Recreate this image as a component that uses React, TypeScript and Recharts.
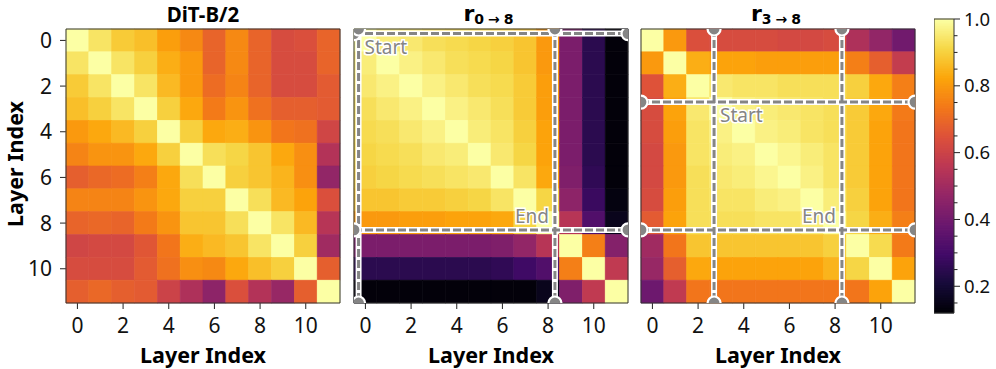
import React from 'react';
import { ScatterChart, Scatter, XAxis, YAxis, ReferenceDot } from 'recharts';

const layers = [0, 1, 2, 3, 4, 5, 6, 7, 8, 9, 10, 11];
const layerTicks = [0, 2, 4, 6, 8, 10];

// layer-to-layer similarity
const ditB2 = [
  [1.0, 0.94, 0.89, 0.87, 0.81, 0.77, 0.69, 0.77, 0.69, 0.63, 0.64, 0.69],
  [0.94, 1.0, 0.94, 0.9, 0.84, 0.8, 0.69, 0.77, 0.69, 0.63, 0.63, 0.69],
  [0.89, 0.94, 1.0, 0.94, 0.86, 0.8, 0.71, 0.76, 0.69, 0.63, 0.63, 0.67],
  [0.87, 0.9, 0.94, 1.0, 0.9, 0.83, 0.74, 0.79, 0.72, 0.68, 0.68, 0.67],
  [0.8, 0.83, 0.86, 0.9, 1.0, 0.9, 0.83, 0.84, 0.79, 0.73, 0.72, 0.61],
  [0.76, 0.79, 0.79, 0.83, 0.9, 1.0, 0.93, 0.91, 0.88, 0.83, 0.78, 0.54],
  [0.68, 0.7, 0.71, 0.75, 0.83, 0.93, 1.0, 0.9, 0.88, 0.85, 0.78, 0.47],
  [0.76, 0.76, 0.76, 0.79, 0.83, 0.9, 0.9, 1.0, 0.93, 0.86, 0.82, 0.64],
  [0.69, 0.7, 0.69, 0.74, 0.79, 0.88, 0.88, 0.93, 1.0, 0.94, 0.86, 0.55],
  [0.61, 0.62, 0.62, 0.66, 0.73, 0.84, 0.86, 0.88, 0.94, 1.0, 0.9, 0.5],
  [0.63, 0.63, 0.63, 0.67, 0.72, 0.78, 0.77, 0.83, 0.87, 0.9, 1.0, 0.68],
  [0.68, 0.7, 0.68, 0.67, 0.6, 0.53, 0.46, 0.64, 0.54, 0.48, 0.68, 1.0],
];

const r0to8 = [
  [1.0, 0.96, 0.95, 0.93, 0.92, 0.91, 0.9, 0.88, 0.8, 0.42, 0.25, 0.13],
  [0.96, 1.0, 0.97, 0.95, 0.93, 0.92, 0.91, 0.88, 0.8, 0.42, 0.25, 0.13],
  [0.95, 0.97, 1.0, 0.97, 0.95, 0.93, 0.92, 0.89, 0.81, 0.42, 0.25, 0.13],
  [0.93, 0.95, 0.97, 1.0, 0.97, 0.95, 0.93, 0.89, 0.81, 0.42, 0.25, 0.13],
  [0.92, 0.93, 0.95, 0.97, 1.0, 0.96, 0.94, 0.9, 0.82, 0.42, 0.25, 0.13],
  [0.91, 0.92, 0.93, 0.95, 0.96, 1.0, 0.95, 0.91, 0.82, 0.42, 0.25, 0.13],
  [0.9, 0.91, 0.92, 0.93, 0.94, 0.95, 1.0, 0.94, 0.83, 0.43, 0.26, 0.13],
  [0.88, 0.88, 0.89, 0.89, 0.9, 0.91, 0.94, 1.0, 0.91, 0.46, 0.28, 0.14],
  [0.8, 0.8, 0.81, 0.81, 0.82, 0.82, 0.83, 0.91, 1.0, 0.55, 0.33, 0.16],
  [0.42, 0.42, 0.42, 0.42, 0.42, 0.42, 0.43, 0.47, 0.55, 1.0, 0.75, 0.44],
  [0.25, 0.25, 0.25, 0.25, 0.25, 0.25, 0.26, 0.29, 0.33, 0.75, 1.0, 0.57],
  [0.13, 0.13, 0.13, 0.13, 0.13, 0.13, 0.13, 0.13, 0.16, 0.43, 0.57, 1.0],
];

const r3to8 = [
  [1.0, 0.8, 0.64, 0.63, 0.63, 0.63, 0.62, 0.62, 0.63, 0.53, 0.47, 0.4],
  [0.8, 1.0, 0.84, 0.82, 0.82, 0.81, 0.81, 0.81, 0.81, 0.75, 0.68, 0.58],
  [0.65, 0.84, 1.0, 0.95, 0.94, 0.94, 0.93, 0.93, 0.93, 0.9, 0.83, 0.75],
  [0.63, 0.82, 0.95, 1.0, 0.97, 0.96, 0.95, 0.94, 0.93, 0.89, 0.83, 0.74],
  [0.63, 0.81, 0.94, 0.97, 1.0, 0.97, 0.96, 0.94, 0.93, 0.89, 0.82, 0.73],
  [0.62, 0.8, 0.94, 0.96, 0.97, 1.0, 0.98, 0.96, 0.94, 0.89, 0.82, 0.73],
  [0.62, 0.8, 0.93, 0.95, 0.96, 0.98, 1.0, 0.97, 0.94, 0.89, 0.82, 0.73],
  [0.63, 0.81, 0.93, 0.94, 0.94, 0.96, 0.97, 1.0, 0.96, 0.9, 0.82, 0.73],
  [0.67, 0.82, 0.93, 0.93, 0.93, 0.94, 0.94, 0.96, 1.0, 0.91, 0.84, 0.75],
  [0.5, 0.73, 0.88, 0.88, 0.88, 0.88, 0.88, 0.88, 0.9, 1.0, 0.92, 0.74],
  [0.48, 0.68, 0.83, 0.82, 0.82, 0.82, 0.82, 0.82, 0.85, 0.91, 1.0, 0.82],
  [0.39, 0.57, 0.73, 0.73, 0.73, 0.73, 0.73, 0.73, 0.73, 0.73, 0.82, 1.0],
];

// [start, end] of the dashed guide box
const r0to8Guides = [-0.3, 8.3];
const r3to8Guides = [2.7, 8.3];

const cbarMin = 0.12;
const cbarMax = 1.0;
const cbarTicks = [0.15, 0.2, 0.25, 0.3, 0.35, 0.4, 0.45, 0.5, 0.55, 0.6, 0.65, 0.7, 0.75, 0.8, 0.85, 0.9, 0.95, 1.0];
const cbarMajor = [0.2, 0.4, 0.6, 0.8, 1.0];

// inferno colormap stops
const INFERNO = ['#000004', '#160b39', '#420a68', '#6a176e', '#932667', '#bc3754', '#dd513a', '#f37819', '#fca50a', '#f6d746', '#fcffa4'];

function hexRgb(h: string) {
  return [1, 3, 5].map((i) => parseInt(h.slice(i, i + 2), 16));
}

function inferno(v: number) {
  const t = Math.min(1, Math.max(0, (v - cbarMin) / (cbarMax - cbarMin))) * 10;
  const i = Math.min(9, Math.floor(t));
  const f = t - i;
  const a = hexRgb(INFERNO[i]);
  const b = hexRgb(INFERNO[i + 1]);
  const c = a.map((x, k) => Math.round(x + (b[k] - x) * f));
  return `rgb(${c[0]},${c[1]},${c[2]})`;
}

const PLOT = 274;
const CELL = PLOT / layers.length;
const TOP = 29;
const H = 369;
const LO = -0.5;
const HI = 11.5;
const GUIDE = '#858585';

const guideText = {
  fill: GUIDE,
  stroke: '#fff',
  strokeWidth: 3,
  paintOrder: 'stroke' as const,
  fontSize: 19,
};

const toCells = (m: number[][]) => m.flatMap((row, i) => row.map((v, j) => ({ x: layers[j], y: layers[i], v })));

const CellShape = (p: any) => {
  const c = inferno(p.payload.v);
  return <rect x={p.cx - CELL / 2} y={p.cy - CELL / 2} width={CELL} height={CELL} fill={c} stroke={c} strokeWidth={0.6} />;
};

const NoShape = () => <g />;

const frame = [
  { x: LO, y: LO },
  { x: HI, y: LO },
  { x: HI, y: HI },
  { x: LO, y: HI },
  { x: LO, y: LO },
];

const guideSegments = (g: number) => [
  [
    { x: LO, y: g },
    { x: HI, y: g },
  ],
  [
    { x: g, y: LO },
    { x: g, y: HI },
  ],
];

type HeatmapProps = { matrix: number[][]; plotLeft: number; showYLabels?: boolean; guides?: number[] };

function Heatmap({ matrix, plotLeft, showYLabels, guides }: HeatmapProps) {
  const yW = showYLabels ? 66 : 12;
  const segs = guides ? guides.flatMap(guideSegments) : [];
  return (
    <div style={{ position: 'absolute', left: plotLeft - yW, top: 0 }}>
      <ScatterChart width={yW + PLOT + 6} height={H} margin={{ top: TOP, right: 6, bottom: 0, left: 0 }}>
        <XAxis
          type="number"
          dataKey="x"
          domain={[LO, HI]}
          ticks={layerTicks}
          interval={0}
          height={66}
          axisLine={false}
          tickSize={6}
          tickMargin={9}
          tickLine={{ stroke: '#222' }}
          tick={{ fill: '#111', fontSize: 21 }}
          label={{ value: 'Layer Index', position: 'insideBottom', offset: 6, fill: '#000', fontSize: 21.5, fontWeight: 700 }}
        />
        <YAxis
          type="number"
          dataKey="y"
          domain={[LO, HI]}
          reversed
          ticks={layerTicks}
          interval={0}
          width={yW}
          axisLine={false}
          tickSize={6}
          tickMargin={8}
          tickLine={{ stroke: '#222' }}
          tick={showYLabels ? { fill: '#111', fontSize: 21 } : false}
        />
        <Scatter data={toCells(matrix)} shape={CellShape} isAnimationActive={false} />
        {segs.map((s, k) => (
          <Scatter key={`w${k}`} data={s} line={{ stroke: '#fff', strokeWidth: 6 }} shape={NoShape} isAnimationActive={false} />
        ))}
        {segs.map((s, k) => (
          <Scatter
            key={`d${k}`}
            data={s}
            line={{ stroke: GUIDE, strokeWidth: 3, strokeDasharray: '8 3' }}
            shape={NoShape}
            isAnimationActive={false}
          />
        ))}
        <Scatter data={frame} line={{ stroke: '#333', strokeWidth: 1 }} shape={NoShape} isAnimationActive={false} />
        {segs.map((s, k) =>
          s.map((pt, n) => (
            <ReferenceDot
              key={`m${k}-${n}`}
              x={pt.x}
              y={pt.y}
              r={6.5}
              fill={GUIDE}
              stroke="#fff"
              strokeWidth={2.2}
              ifOverflow="hidden"
            />
          ))
        )}
        {guides && (
          <ReferenceDot
            x={guides[0]}
            y={guides[0]}
            r={1}
            shape={(p: any) => (
              <text x={p.cx + 6} y={p.cy + 20} {...guideText}>
                Start
              </text>
            )}
          />
        )}
        {guides && (
          <ReferenceDot
            x={guides[1]}
            y={guides[1]}
            r={1}
            shape={(p: any) => (
              <text x={p.cx - 6} y={p.cy - 7} textAnchor="end" {...guideText}>
                End
              </text>
            )}
          />
        )}
      </ScatterChart>
    </div>
  );
}

const CBAR_W = 20;
const CBAR_TOP = 19;
const CBAR_BOTTOM = 313;
const N_BANDS = 176;
const bandStep = (cbarMax - cbarMin) / N_BANDS;
const cbarBands = Array.from({ length: N_BANDS }, (_, i) => ({ x: 0.5, y: cbarMin + bandStep * (i + 0.5) }));
const bandPx = (CBAR_BOTTOM - CBAR_TOP) / N_BANDS;
const cbarFrame = [
  { x: 0, y: cbarMin },
  { x: 1, y: cbarMin },
  { x: 1, y: cbarMax },
  { x: 0, y: cbarMax },
  { x: 0, y: cbarMin },
];

const BandShape = (p: any) => {
  const c = inferno(p.payload.y);
  return <rect x={p.cx - CBAR_W / 2} y={p.cy - bandPx / 2 - 0.4} width={CBAR_W} height={bandPx + 0.8} fill={c} />;
};

function CbarTick(props: any) {
  const { x, y, payload } = props;
  const v = payload.value;
  const major = cbarMajor.some((m) => Math.abs(m - v) < 1e-6);
  const ax = x - 7;
  return (
    <g>
      <line x1={ax} x2={ax + (major ? 6 : 3.5)} y1={y} y2={y} stroke="#222" />
      {major && (
        <text x={ax + 10} y={y} dy="0.36em" fontSize={18.5} fill="#111">
          {v.toFixed(1)}
        </text>
      )}
    </g>
  );
}

function Colorbar() {
  return (
    <div style={{ position: 'absolute', left: 934, top: 0 }}>
      <ScatterChart width={CBAR_W + 50} height={H} margin={{ top: CBAR_TOP, right: 0, bottom: H - CBAR_BOTTOM, left: 0 }}>
        <XAxis type="number" dataKey="x" domain={[0, 1]} hide />
        <YAxis
          type="number"
          dataKey="y"
          domain={[cbarMin, cbarMax]}
          orientation="right"
          width={50}
          ticks={cbarTicks}
          interval={0}
          axisLine={false}
          tickLine={false}
          tickSize={4}
          tickMargin={3}
          tick={(p: any) => <CbarTick {...p} />}
        />
        <Scatter data={cbarBands} shape={BandShape} isAnimationActive={false} />
        <Scatter data={cbarFrame} line={{ stroke: '#333', strokeWidth: 1 }} shape={NoShape} isAnimationActive={false} />
      </ScatterChart>
    </div>
  );
}

const mathFont = '"DejaVu Sans", sans-serif';

function SpanTitle({ x, from, to }: { x: number; from: number; to: number }) {
  return (
    <text x={x} y={20.5} textAnchor="middle" fontWeight={700} fill="#000" fontFamily={mathFont}>
      <tspan fontSize={22}>r</tspan>
      <tspan fontSize={14} dy={3.5}>
        {from}
      </tspan>
      <tspan fontSize={14} dx={4}>
        →
      </tspan>
      <tspan fontSize={14} dx={4}>
        {to}
      </tspan>
    </text>
  );
}

export default function App() {
  const lefts = [66, 353.5, 641];
  const centers = lefts.map((l) => l + PLOT / 2);
  return (
    <div
      style={{
        position: 'absolute',
        left: 0,
        top: 0,
        width: 996,
        height: 369,
        background: '#fff',
        overflow: 'hidden',
        fontFamily: '"Noto Sans", sans-serif',
      }}
    >
      <Heatmap matrix={ditB2} plotLeft={lefts[0]} showYLabels />
      <Heatmap matrix={r0to8} plotLeft={lefts[1]} guides={r0to8Guides} />
      <Heatmap matrix={r3to8} plotLeft={lefts[2]} guides={r3to8Guides} />
      <Colorbar />
      <svg width={996} height={369} style={{ position: 'absolute', left: 0, top: 0, pointerEvents: 'none' }}>
        <text x={centers[0]} y={22} textAnchor="middle" fontSize={20.5} fontWeight={700} fill="#000">
          DiT-B/2
        </text>
        <SpanTitle x={centers[1] - 2} from={0} to={8} />
        <SpanTitle x={centers[2] - 2} from={3} to={8} />
        <text transform="translate(23, 164) rotate(-90)" textAnchor="middle" fontSize={21.5} fontWeight={700} fill="#000">
          Layer Index
        </text>
      </svg>
    </div>
  );
}
